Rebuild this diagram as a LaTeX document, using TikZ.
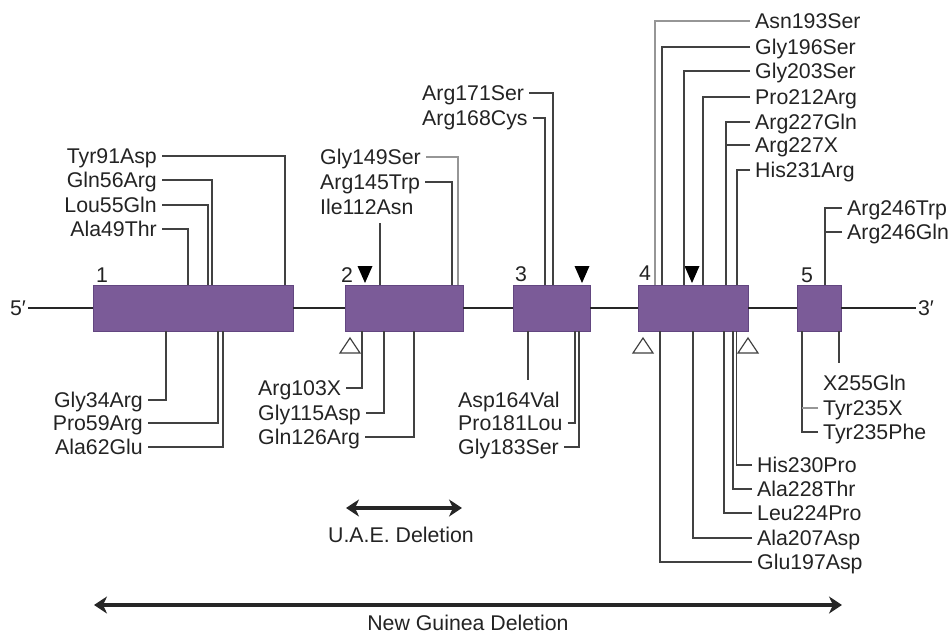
\documentclass[tikz,border=0pt]{standalone}
\usepackage{fontspec}
\setmainfont{Liberation Sans}
\usetikzlibrary{arrows.meta}
\definecolor{exonfill}{RGB}{123,91,152}
\definecolor{exonedge}{RGB}{98,70,128}
\definecolor{txt}{RGB}{35,35,35}
\definecolor{conn}{RGB}{65,65,65}
\definecolor{lightconn}{RGB}{150,150,150}
\begin{document}
\begin{tikzpicture}[x=1pt,y=-1pt,
  exon/.style={draw=exonedge, line width=0.8pt, fill=exonfill, minimum height=46pt, inner sep=0pt},
  lab/.style={font=\fontsize{21.3}{24}\selectfont, text=txt, inner xsep=5pt, inner ysep=0pt, text height=15.2pt, text depth=0pt},
  conn/.style={draw=conn, line width=1.2pt},
  backbone/.style={draw=black!85, line width=1.6pt},
  fulltri/.style={fill=black},
  opentri/.style={draw=black!75, line width=1.2pt, fill=white},
  delarrow/.style={draw=black!85, {Stealth[length=13pt,width=17pt,inset=4pt]}-{Stealth[length=13pt,width=17pt,inset=4pt]}}
]
\useasboundingbox (0,0) rectangle (951,635);

% exons
\node[exon, minimum width=200pt] (e1) at (193,308) {};
\node[exon, minimum width=118pt] (e2) at (404,308) {};
\node[exon, minimum width=77pt]  (e3) at (551.5,308) {};
\node[exon, minimum width=110pt] (e4) at (693,308) {};
\node[exon, minimum width=44pt]  (e5) at (819,308) {};

% ends
\node[lab, inner xsep=2pt] (p5) at (18,308) {5′};
\node[lab, inner xsep=2pt] (p3) at (926,308) {3′};
\draw[backbone] (p5.east) -- (e1.west);
\draw[backbone] (e1.east) -- (e2.west);
\draw[backbone] (e2.east) -- (e3.west);
\draw[backbone] (e3.east) -- (e4.west);
\draw[backbone] (e4.east) -- (e5.west);
\draw[backbone] (e5.east) -- (p3.west);

% exon numbers
\node[lab] (n1) at (102,275) {1};
\node[lab] (n2) at (347,275) {2};
\node[lab] (n3) at (521,274) {3};
\node[lab] (n4) at (645,273) {4};
\node[lab] (n5) at (807,275) {5};

% filled triangles
\fill[fulltri] (357.5,266) -- (372.5,266) -- (365,283) -- cycle;
\fill[fulltri] (574.5,266) -- (589.5,266) -- (582,283) -- cycle;
\fill[fulltri] (684.5,266) -- (699.5,266) -- (692,283) -- cycle;

% open triangles
\draw[opentri] (340,353) -- (360,353) -- (350,338) -- cycle;
\draw[opentri] (633,353) -- (653,353) -- (643,338) -- cycle;
\draw[opentri] (738,353) -- (758,353) -- (748,338) -- cycle;

% ---- exon 1 top
\node[lab, anchor=east] (a1) at (162,156) {Tyr91Asp};
\node[lab, anchor=east] (a2) at (162,180) {Gln56Arg};
\node[lab, anchor=east] (a3) at (162,205) {Lou55Gln};
\node[lab, anchor=east] (a4) at (162,229) {Ala49Thr};
\coordinate (ca1) at (285,285);
\coordinate (ca2) at (212,285);
\coordinate (ca3) at (208,285);
\coordinate (ca4) at (188,285);
\draw[conn] (a1.east) -| (ca1);
\draw[conn] (a2.east) -| (ca2);
\draw[conn] (a3.east) -| (ca3);
\draw[conn] (a4.east) -| (ca4);

% ---- exon 1 bottom
\node[lab, anchor=east] (b1) at (148,400) {Gly34Arg};
\node[lab, anchor=east] (b2) at (148,423) {Pro59Arg};
\node[lab, anchor=east] (b3) at (148,447) {Ala62Glu};
\coordinate (cb1) at (166,331);
\coordinate (cb2) at (218,331);
\coordinate (cb3) at (223,331);
\draw[conn] (b1.east) -| (cb1);
\draw[conn] (b2.east) -| (cb2);
\draw[conn] (b3.east) -| (cb3);

% ---- exon 2 top
\node[lab, anchor=west] (c1) at (315,157) {Gly149Ser};
\node[lab, anchor=west] (c2) at (315,182) {Arg145Trp};
\node[lab, anchor=west] (c3) at (315,207) {Ile112Asn};
\coordinate (cc1) at (458,285);
\coordinate (cc2) at (452,285);
\coordinate (cc3) at (380,285);
\coordinate (cc3s) at (380,223);
\draw[conn, draw=lightconn] (c1.east) -| (cc1);
\draw[conn] (c2.east) -| (cc2);
\draw[conn] (cc3s) -- (cc3);

% ---- exon 2 bottom
\node[lab, anchor=west] (d1) at (253,388) {Arg103X};
\node[lab, anchor=west] (d2) at (253,413) {Gly115Asp};
\node[lab, anchor=west] (d3) at (253,437) {Gln126Arg};
\coordinate (cd1) at (362,331);
\coordinate (cd2) at (384,331);
\coordinate (cd3) at (414,331);
\draw[conn] (d1.east) -| (cd1);
\draw[conn] (d2.east) -| (cd2);
\draw[conn] (d3.east) -| (cd3);

% ---- exon 3 top
\node[lab, anchor=west] (f1) at (417,93) {Arg171Ser};
\node[lab, anchor=west] (f2) at (417,118) {Arg168Cys};
\coordinate (cf1) at (553,285);
\coordinate (cf2) at (545,285);
\draw[conn] (f1.east) -| (cf1);
\draw[conn] (f2.east) -| (cf2);

% ---- exon 3 bottom
\node[lab, anchor=west] (g1) at (453,400) {Asp164Val};
\node[lab, anchor=west] (g2) at (453,423) {Pro181Lou};
\node[lab, anchor=west] (g3) at (453,447) {Gly183Ser};
\coordinate (cg1) at (528,331);
\coordinate (cg1s) at (528,380);
\coordinate (cg2) at (575,331);
\coordinate (cg3) at (579,331);
\draw[conn] (cg1) -- (cg1s);
\draw[conn] (g2.east) -| (cg2);
\draw[conn] (g3.east) -| (cg3);

% ---- exon 4 top
\node[lab, anchor=west] (h1) at (750,21) {Asn193Ser};
\node[lab, anchor=west] (h2) at (750,47) {Gly196Ser};
\node[lab, anchor=west] (h3) at (750,71) {Gly203Ser};
\node[lab, anchor=west] (h4) at (750,97) {Pro212Arg};
\node[lab, anchor=west] (h5) at (750,122) {Arg227Gln};
\node[lab, anchor=west] (h6) at (750,145) {Arg227X};
\node[lab, anchor=west] (h7) at (750,170) {His231Arg};
\coordinate (ch1) at (655,285);
\coordinate (ch2) at (662,285);
\coordinate (ch3) at (684,285);
\coordinate (ch4) at (703,285);
\coordinate (ch5) at (726,285);
\coordinate (ch7) at (737,285);
\draw[conn, draw=lightconn] (h1.west) -| (ch1);
\draw[conn] (h2.west) -| (ch2);
\draw[conn] (h3.west) -| (ch3);
\draw[conn] (h4.west) -| (ch4);
\draw[conn] (h5.west) -| (ch5);
\draw[conn] (h6.west) -- (h6.west -| ch5);
\draw[conn] (h7.west) -| (ch7);

% ---- exon 4 bottom
\node[lab, anchor=west] (k1) at (752,465) {His230Pro};
\node[lab, anchor=west] (k2) at (752,489) {Ala228Thr};
\node[lab, anchor=west] (k3) at (752,513) {Leu224Pro};
\node[lab, anchor=west] (k4) at (752,538) {Ala207Asp};
\node[lab, anchor=west] (k5) at (752,562) {Glu197Asp};
\coordinate (ck1) at (736.5,331);
\coordinate (ck2) at (733,331);
\coordinate (ck3) at (724,331);
\coordinate (ck4) at (693,331);
\coordinate (ck5) at (660,331);
\draw[conn] (k1.west) -| (ck1);
\draw[conn] (k2.west) -| (ck2);
\draw[conn] (k3.west) -| (ck3);
\draw[conn] (k4.west) -| (ck4);
\draw[conn] (k5.west) -| (ck5);

% ---- exon 5 top
\node[lab, anchor=west] (m1) at (842,208) {Arg246Trp};
\node[lab, anchor=west] (m2) at (842,232) {Arg246Gln};
\coordinate (cm1) at (825,285);
\draw[conn] (m1.west) -| (cm1);
\draw[conn] (m2.west) -- (m2.west -| cm1);

% ---- exon 5 bottom
\node[lab, anchor=west] (q1) at (818,383) {X255Gln};
\node[lab, anchor=west] (q2) at (818,408) {Tyr235X};
\node[lab, anchor=west] (q3) at (818,432) {Tyr235Phe};
\coordinate (cq1) at (839,331);
\coordinate (cq1s) at (839,363);
\coordinate (cq3) at (802,331);
\draw[conn] (cq1) -- (cq1s);
\draw[conn] (q3.west) -| (cq3);
\draw[conn, draw=lightconn] (q2.west) -- (q2.west -| cq3);

% ---- deletions
\coordinate (u1) at (346,508);
\coordinate (u2) at (462,508);
\draw[delarrow, line width=3.5pt] (u1) -- (u2);
\node[lab] (ut) at (401,535) {U.A.E. Deletion};
\coordinate (g1a) at (94,605);
\coordinate (g2a) at (842,605);
\draw[delarrow, line width=4.5pt] (g1a) -- (g2a);
\node[lab] (gt) at (468,623) {New Guinea Deletion};
\end{tikzpicture}
\end{document}
